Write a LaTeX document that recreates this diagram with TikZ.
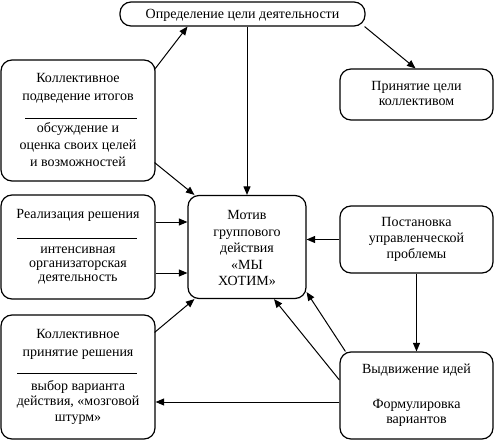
\documentclass[tikz,border=0pt]{standalone}
\usepackage{fontspec}
\setmainfont{Liberation Serif}
\usetikzlibrary{arrows.meta}
\begin{document}
\begin{tikzpicture}[x=1pt,y=-1pt,
  box/.style={draw,line width=1.2pt,rounded corners=11pt,inner sep=0pt,minimum width=#1},
  txt/.style={align=center,inner sep=0pt,font=\fontsize{14}{16}\selectfont},
  arr/.style={line width=1pt,-{Triangle[length=8.5pt,width=7pt]}},
  sep/.style={line width=0.8pt}]
\useasboundingbox (0,0) rectangle (495,441);
% boxes
\node[box=245pt,minimum height=24pt] (top) at (242.5,14) {};
\node[box=154pt,minimum height=121pt] (itog) at (78,120.5) {};
\node[box=153pt,minimum height=51pt] (prin) at (416.5,94.5) {};
\node[box=118pt,minimum height=103pt] (motiv) at (247,247) {};
\node[box=154pt,minimum height=104pt] (real) at (78,247) {};
\node[box=153pt,minimum height=67pt] (post) at (416.5,239.5) {};
\node[box=154pt,minimum height=124pt] (kprin) at (78,377) {};
\node[box=153pt,minimum height=87pt] (vyd) at (416.5,395.5) {};
% texts
\node[txt] (ttop) at (242.5,15) {Определение цели деятельности};
\node[txt,font=\fontsize{14}{18}\selectfont] (titog1) at (78,88) {Коллективное\\подведение итогов};
\node[txt,font=\fontsize{14}{17}\selectfont] (titog2) at (78,145) {обсуждение и\\оценка своих целей\\и возможностей};
\node[txt,font=\fontsize{14}{15}\selectfont] (tprin) at (416.5,93) {Принятие цели\\коллективом};
\node[txt] (treal1) at (78,215) {Реализация решения};
\node[txt,font=\fontsize{14}{14}\selectfont] (treal2) at (78,266) {интенсивная\\организаторская\\деятельность};
\node[txt,font=\fontsize{14}{16.5}\selectfont] (tmotiv) at (247,248) {Мотив\\группового\\действия\\«МЫ\\ХОТИМ»};
\node[txt] (tpost) at (416.5,239) {Постановка\\управленческой\\проблемы};
\node[txt,font=\fontsize{14}{18}\selectfont] (tkprin1) at (78,344) {Коллективное\\принятие решения};
\node[txt,font=\fontsize{14}{15.5}\selectfont] (tkprin2) at (78,402) {выбор варианта\\действия, «мозговой\\штурм»};
\node[txt] (tvyd1) at (416.5,370) {Выдвижение идей};
\node[txt,font=\fontsize{14}{15}\selectfont] (tvyd2) at (416.5,412.5) {Формулировка\\вариантов};
% separators
\draw[sep] (25,118) -- (137,118);
\draw[sep] (17,238) -- (137,238);
\draw[sep] (17,373) -- (137,373);
% arrows
\coordinate (v12) at ([shift={(0,6.5)}]vyd.west);
\draw[arr] ([shift={(-1,10)}]itog.north east) -- ([shift={(-55,0)}]top.south);
\draw[arr] ([shift={(-1,0)}]top.south east) -- ([shift={(-1,0)}]prin.north);
\draw[arr] ([shift={(4.5,0)}]top.south) -- (motiv.north);
\draw[arr] ([shift={(-1,-19)}]itog.south east) -- ([shift={(7,0)}]motiv.north west);
\draw[arr] ([shift={(0,-25)}]real.east) -- ([shift={(0,-25)}]motiv.west);
\draw[arr] ([shift={(0,26)}]real.east) -- ([shift={(0,26)}]motiv.west);
\draw[arr] ([shift={(-1,18)}]kprin.north east) -- ([shift={(7,0)}]motiv.south west);
\draw[arr] (post.west) -- (motiv.east |- post.west);
\draw[arr] (post.south) -- (vyd.north);
\draw[arr] ([shift={(6,0)}]vyd.north west) -- ([shift={(0,-7)}]motiv.south east);
\draw[arr] ([shift={(0,-15.5)}]vyd.west) -- ([shift={(27,0)}]motiv.south);
\draw[arr] (v12) -- (kprin.east |- v12);
\end{tikzpicture}
\end{document}
